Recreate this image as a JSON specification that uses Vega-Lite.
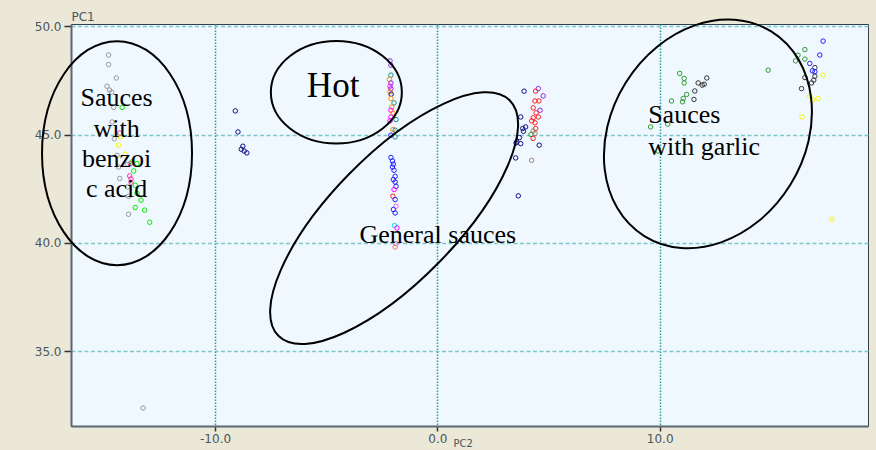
{
  "$schema": "https://vega.github.io/schema/vega-lite/v6.json",
  "width": 797,
  "height": 402,
  "autosize": {"type": "none"},
  "padding": {"left": 71, "top": 24, "right": 8, "bottom": 24},
  "background": "#EBE8D8",
  "config": {
    "view": {"fill": "#F0F8FF", "stroke": "#2F3F4F", "strokeWidth": 1}
  },
  "encoding": {
    "x": {
      "field": "x", "type": "quantitative",
      "scale": {"domain": [-16.48, 19.37], "nice": false, "zero": false},
      "axis": {
        "title": "PC2", "values": [-10, 0, 10],
        "labelExpr": "(datum.value < 0 ? '-' : '') + format(abs(datum.value), '.1f')",
        "grid": true, "gridDash": [1.5, 1.5], "gridColor": "#2A9D9D", "gridWidth": 1.5, "gridOpacity": 1,
        "tickSize": 5, "tickColor": "#333333", "tickWidth": 1.5,
        "domainColor": "#5A6773", "domainWidth": 2,
        "labelFont": "DejaVu Sans", "labelFontSize": 12, "labelColor": "#4A5560", "labelPadding": 2,
        "titleFont": "DejaVu Sans", "titleFontSize": 10, "titleFontWeight": "normal", "titleColor": "#4A5560",
        "titleX": 382, "titleY": 12, "titleAlign": "left", "titleBaseline": "top"
      }
    },
    "y": {
      "field": "y", "type": "quantitative",
      "scale": {"domain": [31.55, 50.1], "nice": false, "zero": false},
      "axis": {
        "title": "PC1", "values": [35, 40, 45, 50], "format": ".1f",
        "grid": true, "gridDash": [4, 2.5], "gridColor": "#7CC7C7", "gridWidth": 1.5, "gridOpacity": 1,
        "tickSize": 7, "tickColor": "#333333", "tickWidth": 1.5,
        "domainColor": "#5A6773", "domainWidth": 2,
        "labelFont": "DejaVu Sans", "labelFontSize": 12, "labelColor": "#4A5560", "labelPadding": 3,
        "titleFont": "DejaVu Sans", "titleFontSize": 12, "titleFontWeight": "normal", "titleColor": "#4A5560",
        "titleAngle": 0, "titleX": 0, "titleY": -4, "titleAlign": "left", "titleBaseline": "alphabetic"
      }
    }
  },
  "layer": [
    {
      "data": {"values": [
        {"x": -14.79, "y": 48.67, "c": "gray"},
        {"x": -14.79, "y": 48.23, "c": "gray"},
        {"x": -14.44, "y": 47.61, "c": "gray"},
        {"x": -14.86, "y": 47.23, "c": "gray"},
        {"x": -14.74, "y": 47.05, "c": "gray"},
        {"x": -14.65, "y": 46.95, "c": "gray"},
        {"x": -14.56, "y": 46.25, "c": "gray"},
        {"x": -14.18, "y": 46.25, "c": "lime"},
        {"x": -14.63, "y": 45.58, "c": "gray"},
        {"x": -14.29, "y": 45.07, "c": "pink"},
        {"x": -14.26, "y": 44.89, "c": "yellow"},
        {"x": -14.53, "y": 44.80, "c": "gray"},
        {"x": -14.34, "y": 44.51, "c": "yellow"},
        {"x": -14.41, "y": 44.04, "c": "gray"},
        {"x": -14.04, "y": 44.09, "c": "yellow"},
        {"x": -13.73, "y": 43.74, "c": "lime"},
        {"x": -13.81, "y": 43.66, "c": "pink"},
        {"x": -13.93, "y": 43.63, "c": "gray"},
        {"x": -13.51, "y": 43.66, "c": "lime"},
        {"x": -14.34, "y": 43.50, "c": "gray"},
        {"x": -13.66, "y": 43.32, "c": "lime"},
        {"x": -13.84, "y": 43.09, "c": "pink"},
        {"x": -14.29, "y": 42.97, "c": "gray"},
        {"x": -13.78, "y": 42.95, "c": "pink"},
        {"x": -13.78, "y": 42.80, "c": "pink"},
        {"x": -13.59, "y": 42.66, "c": "lime"},
        {"x": -13.93, "y": 42.58, "c": "gray"},
        {"x": -13.51, "y": 42.28, "c": "lime"},
        {"x": -13.89, "y": 42.15, "c": "gray"},
        {"x": -13.33, "y": 41.97, "c": "lime"},
        {"x": -13.59, "y": 41.63, "c": "lime"},
        {"x": -13.17, "y": 41.51, "c": "lime"},
        {"x": -13.89, "y": 41.32, "c": "gray"},
        {"x": -12.94, "y": 40.95, "c": "lime"},
        {"x": -13.24, "y": 32.38, "c": "gray"},
        {"x": -9.09, "y": 46.09, "c": "navy"},
        {"x": -8.97, "y": 45.12, "c": "navy"},
        {"x": -8.75, "y": 44.46, "c": "navy"},
        {"x": -8.69, "y": 44.24, "c": "navy"},
        {"x": -8.57, "y": 44.15, "c": "navy"},
        {"x": -8.82, "y": 44.32, "c": "navy"},
        {"x": -2.13, "y": 48.40, "c": "purple"},
        {"x": -2.09, "y": 48.20, "c": "purple"},
        {"x": -2.09, "y": 47.74, "c": "teal"},
        {"x": -2.16, "y": 47.54, "c": "orange"},
        {"x": -2.09, "y": 47.38, "c": "purple"},
        {"x": -2.13, "y": 47.23, "c": "magenta"},
        {"x": -2.09, "y": 47.11, "c": "purple"},
        {"x": -2.13, "y": 46.97, "c": "orange"},
        {"x": -2.08, "y": 46.86, "c": "navy"},
        {"x": -2.09, "y": 46.66, "c": "orange"},
        {"x": -1.95, "y": 46.46, "c": "teal"},
        {"x": -2.05, "y": 46.27, "c": "orange"},
        {"x": -2.09, "y": 46.12, "c": "magenta"},
        {"x": -2.00, "y": 46.00, "c": "orange"},
        {"x": -2.09, "y": 45.81, "c": "magenta"},
        {"x": -1.86, "y": 45.69, "c": "teal"},
        {"x": -2.13, "y": 45.63, "c": "magenta"},
        {"x": -2.00, "y": 45.23, "c": "orange"},
        {"x": -1.90, "y": 45.20, "c": "teal"},
        {"x": -1.90, "y": 44.89, "c": "teal"},
        {"x": -2.09, "y": 44.97, "c": "blue"},
        {"x": -2.09, "y": 43.94, "c": "blue"},
        {"x": -2.02, "y": 43.78, "c": "blue"},
        {"x": -1.98, "y": 43.63, "c": "blue"},
        {"x": -2.02, "y": 43.50, "c": "blue"},
        {"x": -1.95, "y": 43.35, "c": "blue"},
        {"x": -1.90, "y": 43.07, "c": "blue"},
        {"x": -1.98, "y": 42.92, "c": "blue"},
        {"x": -1.90, "y": 42.81, "c": "blue"},
        {"x": -1.86, "y": 42.61, "c": "blue"},
        {"x": -1.95, "y": 42.46, "c": "magenta"},
        {"x": -2.00, "y": 42.15, "c": "red"},
        {"x": -1.90, "y": 42.00, "c": "blue"},
        {"x": -1.86, "y": 41.69, "c": "violet"},
        {"x": -1.98, "y": 41.54, "c": "blue"},
        {"x": -1.90, "y": 41.38, "c": "blue"},
        {"x": -1.93, "y": 40.80, "c": "cyan"},
        {"x": -1.82, "y": 40.69, "c": "magenta"},
        {"x": -1.86, "y": 39.97, "c": "violet"},
        {"x": -1.90, "y": 39.81, "c": "salmon"},
        {"x": 3.90, "y": 47.00, "c": "navy"},
        {"x": 4.54, "y": 47.12, "c": "purple"},
        {"x": 4.42, "y": 47.00, "c": "red"},
        {"x": 4.76, "y": 46.78, "c": "purple"},
        {"x": 4.39, "y": 46.55, "c": "red"},
        {"x": 4.57, "y": 46.55, "c": "red"},
        {"x": 4.31, "y": 46.23, "c": "red"},
        {"x": 4.62, "y": 46.12, "c": "purple"},
        {"x": 4.44, "y": 46.00, "c": "red"},
        {"x": 3.75, "y": 45.81, "c": "navy"},
        {"x": 4.54, "y": 45.81, "c": "red"},
        {"x": 4.31, "y": 45.77, "c": "red"},
        {"x": 4.24, "y": 45.63, "c": "red"},
        {"x": 4.39, "y": 45.54, "c": "red"},
        {"x": 3.97, "y": 45.35, "c": "navy"},
        {"x": 3.84, "y": 45.28, "c": "navy"},
        {"x": 4.42, "y": 45.28, "c": "red"},
        {"x": 3.87, "y": 45.15, "c": "navy"},
        {"x": 4.31, "y": 45.17, "c": "brown"},
        {"x": 4.21, "y": 45.00, "c": "green"},
        {"x": 4.39, "y": 45.05, "c": "brown"},
        {"x": 3.69, "y": 44.86, "c": "navy"},
        {"x": 4.31, "y": 44.82, "c": "red"},
        {"x": 3.57, "y": 44.66, "c": "navy"},
        {"x": 3.75, "y": 44.58, "c": "navy"},
        {"x": 3.54, "y": 44.61, "c": "navy"},
        {"x": 4.58, "y": 44.51, "c": "navy"},
        {"x": 3.52, "y": 43.92, "c": "navy"},
        {"x": 4.24, "y": 43.81, "c": "brown"},
        {"x": 3.64, "y": 42.17, "c": "navy"},
        {"x": 10.90, "y": 47.82, "c": "green"},
        {"x": 11.10, "y": 47.59, "c": "green"},
        {"x": 11.10, "y": 47.38, "c": "green"},
        {"x": 11.21, "y": 46.85, "c": "green"},
        {"x": 11.06, "y": 46.66, "c": "green"},
        {"x": 11.03, "y": 46.51, "c": "green"},
        {"x": 10.53, "y": 46.55, "c": "green"},
        {"x": 11.73, "y": 47.38, "c": "black"},
        {"x": 12.00, "y": 47.32, "c": "black"},
        {"x": 12.12, "y": 47.61, "c": "black"},
        {"x": 11.91, "y": 47.28, "c": "black"},
        {"x": 11.58, "y": 47.01, "c": "black"},
        {"x": 11.54, "y": 46.62, "c": "black"},
        {"x": 9.59, "y": 45.35, "c": "green"},
        {"x": 10.36, "y": 45.48, "c": "green"},
        {"x": 9.93, "y": 44.24, "c": "green"},
        {"x": 14.88, "y": 47.97, "c": "green"},
        {"x": 17.35, "y": 49.31, "c": "blue"},
        {"x": 16.53, "y": 48.92, "c": "green"},
        {"x": 17.20, "y": 48.67, "c": "blue"},
        {"x": 16.22, "y": 48.66, "c": "green"},
        {"x": 16.53, "y": 48.48, "c": "green"},
        {"x": 16.11, "y": 48.40, "c": "green"},
        {"x": 16.75, "y": 48.28, "c": "blue"},
        {"x": 16.98, "y": 48.09, "c": "black"},
        {"x": 16.87, "y": 47.94, "c": "blue"},
        {"x": 16.98, "y": 47.90, "c": "blue"},
        {"x": 16.98, "y": 47.69, "c": "black"},
        {"x": 16.53, "y": 47.63, "c": "black"},
        {"x": 17.35, "y": 47.74, "c": "yellow"},
        {"x": 16.93, "y": 47.51, "c": "black"},
        {"x": 16.83, "y": 47.38, "c": "black"},
        {"x": 16.38, "y": 47.12, "c": "black"},
        {"x": 16.75, "y": 46.77, "c": "yellow"},
        {"x": 17.12, "y": 46.66, "c": "yellow"},
        {"x": 16.87, "y": 46.58, "c": "yellow"},
        {"x": 16.40, "y": 45.81, "c": "yellow"},
        {"x": 17.75, "y": 41.09, "c": "yellow"}
      ]},
      "mark": {"type": "point", "filled": false, "size": 20, "strokeWidth": 1, "opacity": 1},
      "encoding": {
        "color": {
          "field": "c", "type": "nominal", "legend": null,
          "scale": {
            "domain": ["gray", "lime", "yellow", "pink", "navy", "purple", "teal", "orange", "magenta", "blue", "red", "cyan", "violet", "salmon", "brown", "green", "black"],
            "range": ["#999999", "#00EE00", "#F5F500", "#FF3399", "#10108A", "#8A2BE2", "#178F8F", "#FF8C00", "#FF00FF", "#2020FF", "#FF2020", "#00E5E5", "#EE66EE", "#FF6F6F", "#A0806F", "#2E9B2E", "#333333"]
          }
        }
      }
    },
    {
      "data": {"values": [
        {"x": -14.41, "y": 44.14, "name": "benzoic"},
        {"x": -4.544, "y": 46.95, "name": "hot"},
        {"x": -1.946, "y": 41.14, "name": "general"},
        {"x": 12.17, "y": 45.03, "name": "garlic"}
      ]},
      "mark": {"type": "point", "filled": false, "size": 4, "color": "black", "strokeWidth": 2, "opacity": 1},
      "encoding": {
        "shape": {
          "field": "name", "type": "nominal", "legend": null,
          "scale": {
            "domain": ["benzoic", "hot", "general", "garlic"],
            "range": [
              "M75,0 C75,61.86 41.42,112 0,112 C-41.42,112 -75,61.86 -75,0 C-75,-61.86 -41.42,-112 0,-112 C41.42,-112 75,-61.86 75,0 Z",
              "M65.5,0 C65.5,28.33 36.18,51.3 0,51.3 C-36.18,51.3 -65.5,28.33 -65.5,0 C-65.5,-28.33 -36.18,-51.3 0,-51.3 C36.18,-51.3 65.5,-28.33 65.5,0 Z",
              "M115.5,-117.9 C140.35,-93.54 108.79,-21.02 45,44.1 C-18.79,109.22 -90.65,142.26 -115.5,117.9 C-140.35,93.54 -108.79,21.02 -45,-44.1 C18.79,-109.22 90.65,-142.26 115.5,-117.9 Z",
              "M63.63,-102.21 C109.06,-73.93 117.4,-5.24 82.26,51.21 C47.12,107.66 -18.2,130.49 -63.63,102.21 C-109.06,73.93 -117.4,5.24 -82.26,-51.21 C-47.12,-107.66 18.2,-130.49 63.63,-102.21 Z"
            ]
          }
        }
      }
    },
    {
      "data": {"values": [
        {"x": -14.43, "y": 46.31, "t": "Sauces"},
        {"x": -14.43, "y": 44.89, "t": "with"},
        {"x": -14.43, "y": 43.50, "t": "benzoi"},
        {"x": -14.43, "y": 42.12, "t": "c acid"},
        {"x": 0.02, "y": 40.0, "t": "General sauces"}
      ]},
      "mark": {"type": "text", "font": "Liberation Serif", "fontSize": 26, "align": "center", "baseline": "alphabetic", "color": "black"},
      "encoding": {"text": {"field": "t", "type": "nominal"}}
    },
    {
      "data": {"values": [
        {"x": -4.69, "y": 46.74, "t": "Hot"}
      ]},
      "mark": {"type": "text", "font": "Liberation Serif", "fontSize": 35, "align": "center", "baseline": "alphabetic", "color": "black"},
      "encoding": {"text": {"field": "t", "type": "nominal"}}
    },
    {
      "data": {"values": [
        {"x": 9.48, "y": 45.51, "t": "Sauces"},
        {"x": 9.48, "y": 44.04, "t": "with garlic"}
      ]},
      "mark": {"type": "text", "font": "Liberation Serif", "fontSize": 26, "align": "left", "baseline": "alphabetic", "color": "black"},
      "encoding": {"text": {"field": "t", "type": "nominal"}}
    }
  ]
}
